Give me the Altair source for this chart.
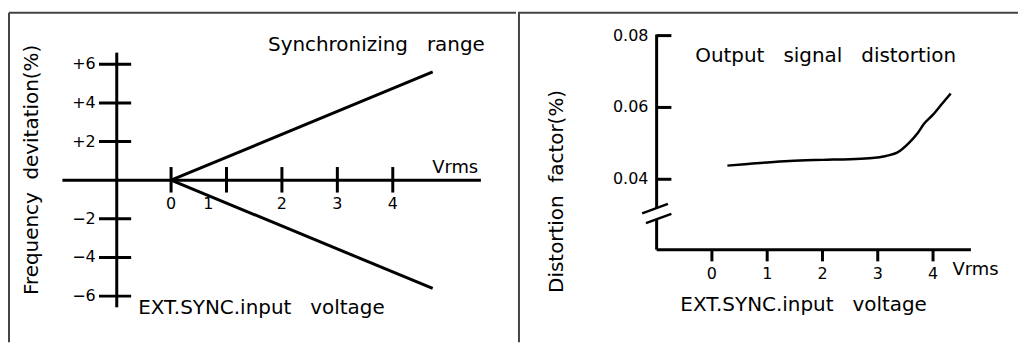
import altair as alt
import pandas as pd

# ---------------- data: left panel (synchronizing range) ----------------
sync_x = [0.0, 4.72]
sync_upper = [0.0, 5.6]
sync_lower = [0.0, -5.6]
sync_xticks = [0, 1, 2, 3, 4]
sync_xtick_labels = ["0", "1", "2", "3", "4"]
sync_xlabel_pos = [0.0, 0.67, 2.0, 3.0, 4.0]
sync_yticks = [-6, -4, -2, 2, 4, 6]
sync_ytick_labels = ["\u22126", "\u22124", "\u22122", "+2", "+4", "+6"]

# ---------------- data: right panel (output signal distortion) ----------------
dist_x = [0.28, 0.6, 1.0, 1.4, 2.0, 2.5, 2.9, 3.15, 3.35, 3.57, 3.72, 3.84, 4.0, 4.14, 4.32]
dist_y = [0.0438, 0.0442, 0.0447, 0.0451, 0.0454, 0.0456, 0.0459, 0.0465,
          0.0474, 0.0502, 0.0528, 0.0555, 0.0580, 0.0606, 0.0639]
dist_xticks = [0, 1, 2, 3, 4]
dist_xtick_labels = ["0", "1", "2", "3", "4"]
dist_yticks = [0.04, 0.06, 0.08]
dist_ytick_labels = ["0.04", "0.06", "0.08"]

FONT = "DejaVu Sans"
INK = "#000000"
FRAME = "#444444"
W1, W2, H = 509, 502, 335
GAP = "\u00a0\u00a0\u00a0"

# ---------------- left panel ----------------
XS1 = alt.Scale(domain=[-2.924, 6.223], nice=False, zero=False)
YS1 = alt.Scale(domain=[-8.392, 8.876], nice=False, zero=False)


def X1(f="x"):
    return alt.X(f, type="quantitative", scale=XS1, axis=None)


def Y1(f="y"):
    return alt.Y(f, type="quantitative", scale=YS1, axis=None)


lines_df = pd.DataFrame(
    {"x": sync_x + sync_x,
     "y": sync_upper + sync_lower,
     "s": ["upper"] * len(sync_x) + ["lower"] * len(sync_x)}
)
sync_lines = alt.Chart(lines_df).mark_line(color=INK, strokeWidth=3).encode(
    x=X1(), y=Y1(), detail="s:N"
)

axes1_df = pd.DataFrame([
    {"x": -1.96, "x2": 5.59, "y": 0.0, "y2": 0.0},
    {"x": -0.98, "x2": -0.98, "y": 6.6, "y2": -6.58},
])
axes1 = alt.Chart(axes1_df).mark_rule(color=INK, strokeWidth=3).encode(
    x=X1(), x2="x2:Q", y=Y1(), y2="y2:Q"
)

ytick1_df = pd.DataFrame({"y": sync_yticks})
yticks1 = alt.Chart(ytick1_df).mark_rule(color=INK, strokeWidth=3).encode(
    x=alt.X("a:Q", scale=XS1, axis=None), x2="b:Q", y=Y1()
).transform_calculate(a="-1.30", b="-0.72")

xtick1_df = pd.DataFrame({"x": sync_xticks})
xticks1 = alt.Chart(xtick1_df).mark_rule(color=INK, strokeWidth=3).encode(
    x=X1(), y=alt.Y("a:Q", scale=YS1, axis=None), y2="b:Q"
).transform_calculate(a="0.68", b="-0.64")

ylab1_df = pd.DataFrame({"y": sync_yticks, "t": sync_ytick_labels})
ylabels1 = alt.Chart(ylab1_df).mark_text(
    font=FONT, fontSize=16, align="right", baseline="middle", color=INK
).encode(x=alt.X("a:Q", scale=XS1, axis=None), y=Y1(), text="t:N").transform_calculate(a="-1.36")

xlab1_df = pd.DataFrame({"x": sync_xlabel_pos, "t": sync_xtick_labels})
xlabels1 = alt.Chart(xlab1_df).mark_text(
    font=FONT, fontSize=16, align="center", baseline="middle", color=INK
).encode(x=X1(), y=alt.Y("a:Q", scale=YS1, axis=None), text="t:N").transform_calculate(a="-1.23")

ann1 = [
    {"x": 5.66, "y": 6.71, "t": "Synchronizing" + GAP + "range", "align": "right", "size": 20},
    {"x": -0.593, "y": -6.95, "t": "EXT.SYNC.input" + GAP + "voltage", "align": "left", "size": 20},
    {"x": 4.71, "y": 0.356, "t": "Vrms", "align": "left", "size": 18},
]
ann1_charts = [
    alt.Chart(pd.DataFrame([a])).mark_text(
        font=FONT, fontSize=a["size"], align=a["align"], baseline="alphabetic", color=INK
    ).encode(x=X1(), y=Y1(), text="t:N")
    for a in ann1
]
ytitle1 = alt.Chart(pd.DataFrame([{"x": -2.50, "y": 0.53, "t": "Frequency\u00a0\u00a0devitation(%)"}])).mark_text(
    font=FONT, fontSize=20, align="center", baseline="middle", angle=270, color=INK
).encode(x=X1(), y=Y1(), text="t:N")

frame1 = alt.Chart(pd.DataFrame({"k": [0]})).mark_rule(color=FRAME, strokeWidth=2).encode(
    x=alt.value(0), x2=alt.value(W1), y=alt.value(4)
)
frame1b = alt.Chart(pd.DataFrame({"k": [0]})).mark_rule(color=FRAME, strokeWidth=2).encode(
    x=alt.value(0), y=alt.value(4), y2=alt.value(H)
)

left = alt.layer(
    frame1, frame1b, axes1, yticks1, xticks1, sync_lines, ylabels1, xlabels1, ytitle1, *ann1_charts
).properties(width=W1, height=H)

# ---------------- right panel ----------------
XS2 = alt.Scale(domain=[-3.508, 5.537], nice=False, zero=False)
YS2 = alt.Scale(domain=[-0.0054, 0.0875], nice=False, zero=False)


def X2(f="x"):
    return alt.X(f, type="quantitative", scale=XS2, axis=None)


def Y2(f="y"):
    return alt.Y(f, type="quantitative", scale=YS2, axis=None)


curve_df = pd.DataFrame({"x": dist_x, "y": dist_y})
curve = alt.Chart(curve_df).mark_line(color=INK, strokeWidth=2.5, interpolate="monotone").encode(
    x=X2(), y=Y2()
)

axes2_df = pd.DataFrame([
    {"x": -1.0, "x2": 4.685, "y": 0.0204, "y2": 0.0204},
    {"x": -1.0, "x2": -1.0, "y": 0.0803, "y2": 0.0320},
    {"x": -1.0, "x2": -1.0, "y": 0.0288, "y2": 0.0204},
])
axes2 = alt.Chart(axes2_df).mark_rule(color=INK, strokeWidth=3).encode(
    x=X2(), x2="x2:Q", y=Y2(), y2="y2:Q"
)

break_df = pd.DataFrame([
    {"x": -1.261, "x2": -0.796, "y": 0.03052, "y2": 0.03315},
    {"x": -1.193, "x2": -0.733, "y": 0.02780, "y2": 0.03038},
])
breaks = alt.Chart(break_df).mark_rule(color=INK, strokeWidth=2.5).encode(
    x=X2(), x2="x2:Q", y=Y2(), y2="y2:Q"
)

ytick2_df = pd.DataFrame({"y": dist_yticks})
yticks2 = alt.Chart(ytick2_df).mark_rule(color=INK, strokeWidth=3).encode(
    x=alt.X("a:Q", scale=XS2, axis=None), x2="b:Q", y=Y2()
).transform_calculate(a="-1.0", b="-0.733")

xtick2_df = pd.DataFrame({"x": dist_xticks})
xticks2 = alt.Chart(xtick2_df).mark_rule(color=INK, strokeWidth=3).encode(
    x=X2(), y=alt.Y("a:Q", scale=YS2, axis=None), y2="b:Q"
).transform_calculate(a="0.0204", b="0.01715")

ylab2_df = pd.DataFrame({"y": dist_yticks, "t": dist_ytick_labels})
ylabels2 = alt.Chart(ylab2_df).mark_text(
    font=FONT, fontSize=16, align="right", baseline="middle", color=INK
).encode(x=alt.X("a:Q", scale=XS2, axis=None), y=Y2(), text="t:N").transform_calculate(a="-1.148")

xlab2_df = pd.DataFrame({"x": dist_xticks, "t": dist_xtick_labels})
xlabels2 = alt.Chart(xlab2_df).mark_text(
    font=FONT, fontSize=16, align="center", baseline="middle", color=INK
).encode(x=X2(), y=alt.Y("a:Q", scale=YS2, axis=None), text="t:N").transform_calculate(a="0.01368")

ann2 = [
    {"x": -0.301, "y": 0.07261, "t": "Output" + GAP + "signal" + GAP + "distortion", "align": "left", "size": 20},
    {"x": -0.571, "y": 0.00328, "t": "EXT.SYNC.input" + GAP + "voltage", "align": "left", "size": 20},
    {"x": 4.353, "y": 0.01346, "t": "Vrms", "align": "left", "size": 18},
]
ann2_charts = [
    alt.Chart(pd.DataFrame([a])).mark_text(
        font=FONT, fontSize=a["size"], align=a["align"], baseline="alphabetic", color=INK
    ).encode(x=X2(), y=Y2(), text="t:N")
    for a in ann2
]
ytitle2 = alt.Chart(pd.DataFrame([{"x": -2.793, "y": 0.03662, "t": "Distortion\u00a0\u00a0factor(%)"}])).mark_text(
    font=FONT, fontSize=20, align="center", baseline="middle", angle=270, color=INK
).encode(x=X2(), y=Y2(), text="t:N")

frame2 = alt.Chart(pd.DataFrame({"k": [0]})).mark_rule(color=FRAME, strokeWidth=2).encode(
    x=alt.value(0), x2=alt.value(W2), y=alt.value(4)
)
frame2b = alt.Chart(pd.DataFrame({"k": [0]})).mark_rule(color=FRAME, strokeWidth=2).encode(
    x=alt.value(1), y=alt.value(4), y2=alt.value(H)
)

right = alt.layer(
    frame2, frame2b, axes2, breaks, yticks2, xticks2, curve, ylabels2, xlabels2, ytitle2, *ann2_charts
).properties(width=W2, height=H)

chart = alt.hconcat(left, right, spacing=0).properties(
    padding=0, background="white"
).configure_view(stroke=None)

chart.save("out.html", embed_options={"renderer": "svg", "actions": False})
